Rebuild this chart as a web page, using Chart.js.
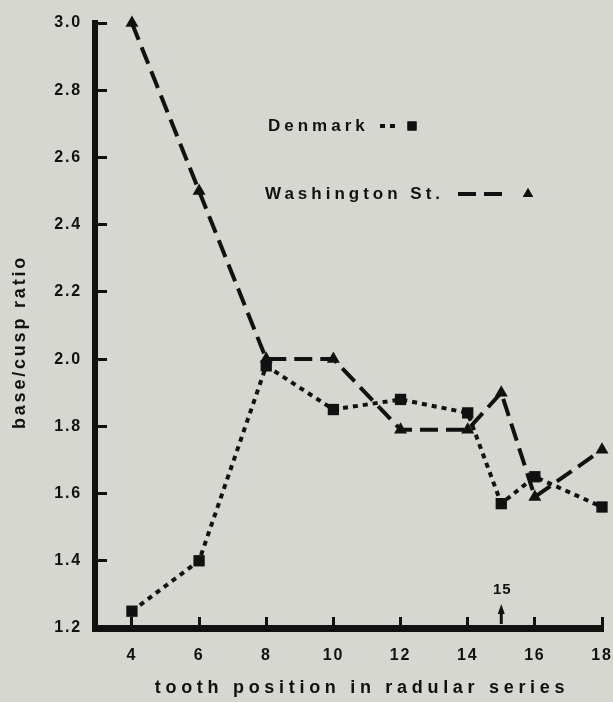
<!DOCTYPE html>
<html>
<head>
<meta charset="utf-8">
<script src="https://cdn.jsdelivr.net/npm/chart.js@4/dist/chart.umd.min.js"></script>
<style>
  html, body { margin: 0; padding: 0; background: #d6d7d1; }
  #wrap { width: 613px; height: 702px; position: relative; }
  canvas { display: block; }
</style>
</head>
<body>
<div id="wrap"><canvas id="c" width="613" height="702"></canvas></div>
<script>
// ---- data ----
const toothPositions = [4, 6, 8, 10, 12, 14, 15, 16, 18];
const denmarkRatio   = [1.25, 1.40, 1.98, 1.85, 1.88, 1.84, 1.57, 1.65, 1.56];
const washingtonRatio = [3.00, 2.50, 2.00, 2.00, 1.79, 1.79, 1.90, 1.59, 1.73];
const seriesNames = ['Denmark', 'Washington St.'];
const xTickValues = [4, 6, 8, 10, 12, 14, 16, 18];
const yTickValues = [1.2, 1.4, 1.6, 1.8, 2.0, 2.2, 2.4, 2.6, 2.8, 3.0];
const markedPosition = 15;
const xTitle = 'tooth position in radular series';
const yTitle = 'base/cusp ratio';

const FONT = '"Liberation Sans", Arial, Helvetica, sans-serif';
const INK = '#111111';

const toPoints = (xs, ys) => xs.map((x, i) => ({ x: x, y: ys[i] }));

const zeroPad = s => { s.paddingTop = 0; s.paddingBottom = 0; s.paddingLeft = 0; s.paddingRight = 0; };

const decorations = {
  id: 'decorations',
  beforeDraw(chart) {
    chart.ctx.letterSpacing = '1.8px';
  },
  afterDraw(chart) {
    const ctx = chart.ctx;
    const xs = chart.scales.x, ys = chart.scales.y;
    ctx.save();
    ctx.fillStyle = INK;
    ctx.strokeStyle = INK;

    // marked position arrow "15"
    const mx = xs.getPixelForValue(markedPosition);
    const base = ys.getPixelForValue(ys.min) - 4;
    ctx.lineWidth = 3;
    ctx.setLineDash([]);
    ctx.beginPath();
    ctx.moveTo(mx, base);
    ctx.lineTo(mx, base - 12);
    ctx.stroke();
    ctx.beginPath();
    ctx.moveTo(mx, base - 20);
    ctx.lineTo(mx - 3.5, base - 10);
    ctx.lineTo(mx + 3.5, base - 10);
    ctx.closePath();
    ctx.fill();
    ctx.letterSpacing = '1px';
    ctx.font = 'bold 15px ' + FONT;
    ctx.textAlign = 'center';
    ctx.textBaseline = 'middle';
    ctx.fillText(String(markedPosition), mx + 1, base - 34);

    // axis titles
    ctx.letterSpacing = '4.7px';
    ctx.font = 'bold 18px ' + FONT;
    ctx.fillText(xTitle, 362, 688);
    ctx.save();
    ctx.translate(20, 342);
    ctx.rotate(-Math.PI / 2);
    ctx.letterSpacing = '2.8px';
    ctx.font = 'bold 18px ' + FONT;
    ctx.fillText(yTitle, 0, 0);
    ctx.restore();

    // legend (text first, then line sample and marker)
    const ds = chart.data.datasets;
    const rows = [
      { d: ds[0], tx: 268, ty: 126, lx1: 380, lx2: 400, mx: 412 },
      { d: ds[1], tx: 265, ty: 194, lx1: 458, lx2: 510, mx: 528 }
    ];
    ctx.font = 'bold 17px ' + FONT;
    ctx.letterSpacing = '4px';
    ctx.textAlign = 'left';
    rows.forEach(r => {
      ctx.fillStyle = INK;
      ctx.fillText(r.d.label, r.tx, r.ty);
      ctx.lineWidth = r.d.borderWidth;
      ctx.setLineDash(r.d.borderDash);
      ctx.beginPath();
      ctx.moveTo(r.lx1, r.ty);
      ctx.lineTo(r.lx2, r.ty);
      ctx.stroke();
      ctx.setLineDash([]);
      Chart.helpers.drawPoint(ctx, {
        pointStyle: r.d.pointStyle,
        radius: r.d.pointRadius * 0.8,
        rotation: 0,
        borderWidth: 0
      }, r.mx, r.ty);
      ctx.fill();
    });
    ctx.restore();
  }
};

new Chart(document.getElementById('c'), {
  type: 'line',
  data: {
    datasets: [
      {
        label: seriesNames[0],
        data: toPoints(toothPositions, denmarkRatio),
        borderColor: INK,
        backgroundColor: INK,
        borderWidth: 4,
        borderDash: [5, 5],
        borderCapStyle: 'butt',
        pointStyle: 'rect',
        pointRadius: 8,
        pointBorderWidth: 0,
        pointBackgroundColor: INK,
        tension: 0,
        clip: false
      },
      {
        label: seriesNames[1],
        data: toPoints(toothPositions, washingtonRatio),
        borderColor: INK,
        backgroundColor: INK,
        borderWidth: 4,
        borderDash: [18, 8],
        borderCapStyle: 'butt',
        pointStyle: 'triangle',
        pointRadius: 7.5,
        pointBorderWidth: 0,
        pointBackgroundColor: INK,
        tension: 0,
        clip: false
      }
    ]
  },
  options: {
    responsive: false,
    animation: false,
    devicePixelRatio: 1,
    layout: { autoPadding: false, padding: { top: 23, right: 11, left: 0, bottom: 0 } },
    plugins: {
      legend: { display: false },
      tooltip: { enabled: false },
      title: { display: false }
    },
    scales: {
      x: {
        type: 'linear',
        min: 2.9,
        max: 18,
        afterBuildTicks: s => { s.ticks = xTickValues.map(v => ({ value: v })); },
        afterFit: s => { s.height = 74; zeroPad(s); },
        grid: {
          display: true,
          drawOnChartArea: false,
          drawTicks: true,
          tickLength: -11,
          tickWidth: 3,
          tickColor: INK
        },
        border: { display: true, color: INK, width: 7 },
        ticks: {
          color: INK,
          padding: 29,
          maxRotation: 0,
          autoSkip: false,
          font: { family: FONT, size: 16, weight: 'bold' },
          callback: v => String(v)
        }
      },
      y: {
        type: 'linear',
        min: 1.2,
        max: 3.0,
        afterBuildTicks: s => { s.ticks = yTickValues.map(v => ({ value: v })); },
        afterFit: s => { s.width = 95; zeroPad(s); },
        grid: {
          display: true,
          drawOnChartArea: false,
          drawTicks: true,
          tickLength: -12,
          tickWidth: 3,
          tickColor: INK
        },
        border: { display: true, color: INK, width: 6 },
        ticks: {
          color: INK,
          padding: 25,
          autoSkip: false,
          font: { family: FONT, size: 16, weight: 'bold' },
          callback: v => Number(v).toFixed(1)
        }
      }
    }
  },
  plugins: [decorations]
});
</script>
</body>
</html>
